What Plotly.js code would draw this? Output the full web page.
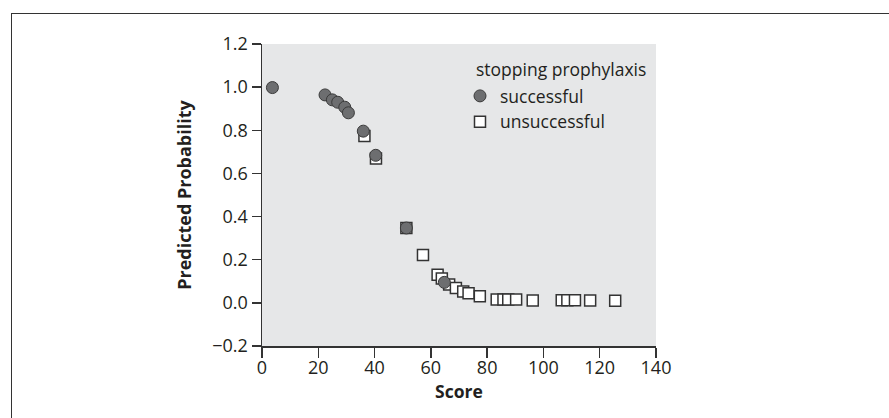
<!DOCTYPE html>
<html>
<head>
<meta charset="utf-8">
<script src="https://cdn.plot.ly/plotly-3.0.1.min.js"></script>
<style>
  html, body { margin: 0; padding: 0; background: #fff; }
  #wrap { position: relative; width: 889px; height: 418px; overflow: hidden; }
  #chart { position: absolute; left: 0; top: 0; width: 889px; height: 418px; }
  .frameTop { position: absolute; left: 11px; top: 13px; width: 878px; height: 0; border-top: 1.5px solid #333; }
  .frameLeft { position: absolute; left: 11px; top: 13px; width: 0; height: 405px; border-left: 1.5px solid #333; }
</style>
</head>
<body>
<div id="wrap">
  <div id="chart"></div>
  <div class="frameTop"></div>
  <div class="frameLeft"></div>
</div>
<script>
// Successful stopping of prophylaxis
const successScore = [3.7, 22.4, 25.0, 26.9, 29.4, 30.7, 36.0, 40.4, 51.3, 64.8];
const successProb  = [0.998, 0.964, 0.941, 0.930, 0.907, 0.881, 0.796, 0.684, 0.347, 0.095];

// Unsuccessful stopping of prophylaxis
const failScore = [36.4, 40.5, 51.3, 57.2, 62.4, 63.9, 66.5, 68.9, 71.5, 73.4, 77.4,
                   83.4, 85.8, 87.5, 90.3, 96.2, 106.5, 108.5, 111.2, 116.6, 125.5];
const failProb  = [0.774, 0.669, 0.347, 0.222, 0.130, 0.113, 0.085, 0.069, 0.053, 0.044, 0.031,
                   0.016, 0.015, 0.015, 0.015, 0.011, 0.012, 0.012, 0.012, 0.011, 0.010];

const xTicks = [0, 20, 40, 60, 80, 100, 120, 140];
const yTicks = [-0.2, 0.0, 0.2, 0.4, 0.6, 0.8, 1.0, 1.2];
const yTickText = ['\u22120.2', '0.0', '0.2', '0.4', '0.6', '0.8', '1.0', '1.2'];

const FONT = '"Open Sans", "Noto Sans", sans-serif';

const traces = [
  {
    type: 'scatter', mode: 'markers', name: 'unsuccessful',
    x: failScore, y: failProb, legendrank: 2,
    marker: { symbol: 'square', size: 11, color: '#ffffff', line: { color: '#333333', width: 1.5 } },
    hoverinfo: 'x+y'
  },
  {
    type: 'scatter', mode: 'markers', name: 'successful',
    x: successScore, y: successProb, legendrank: 1,
    marker: { symbol: 'circle', size: 12, color: '#6d6e70', line: { color: '#3a3a3a', width: 1 } },
    hoverinfo: 'x+y'
  }
];

const layout = {
  width: 889, height: 418,
  margin: { l: 262, r: 233, t: 44, b: 72, pad: 0 },
  paper_bgcolor: '#ffffff',
  plot_bgcolor: '#e6e7e8',
  font: { family: FONT, size: 17, color: '#231f20' },
  showlegend: true,
  legend: {
    xref: 'paper', yref: 'paper',
    x: (460 - 262) / 394, y: (418 - 72 - 78) / 302,
    xanchor: 'left', yanchor: 'top',
    bgcolor: 'rgba(0,0,0,0)',
    font: { family: FONT, size: 17.5, color: '#231f20' },
    itemwidth: 30
  },
  xaxis: {
    range: [0, 140], tickvals: xTicks, ticktext: xTicks.map(String),
    showgrid: false, zeroline: false,
    showline: true, linecolor: '#333333', linewidth: 1.5,
    ticks: 'outside', ticklen: 10, tickwidth: 1.5, tickcolor: '#333333',
    tickfont: { family: FONT, size: 18, color: '#231f20' },
    ticklabelstandoff: -5,
    title: { text: '<b>Score</b>', font: { family: FONT, size: 17.5, color: '#231f20' }, standoff: 6 }
  },
  yaxis: {
    range: [-0.2, 1.2], tickvals: yTicks, ticktext: yTickText,
    showgrid: false, zeroline: false,
    showline: true, linecolor: '#333333', linewidth: 1.5,
    ticks: 'outside', ticklen: 9, tickwidth: 1.5, tickcolor: '#333333',
    tickfont: { family: FONT, size: 18, color: '#231f20' },
    title: { text: '<b>Predicted Probability</b>', font: { family: FONT, size: 18, color: '#231f20' }, standoff: 16 }
  },
  annotations: [
    {
      xref: 'paper', yref: 'paper', x: (474 - 262) / 394, y: (418 - 72 - 69) / 302,
      xanchor: 'left', yanchor: 'middle', showarrow: false,
      text: 'stopping prophylaxis', font: { family: FONT, size: 17.5, color: '#231f20' }
    }
  ]
};

Plotly.newPlot('chart', traces, layout, { displayModeBar: false, staticPlot: true });
</script>
</body>
</html>
